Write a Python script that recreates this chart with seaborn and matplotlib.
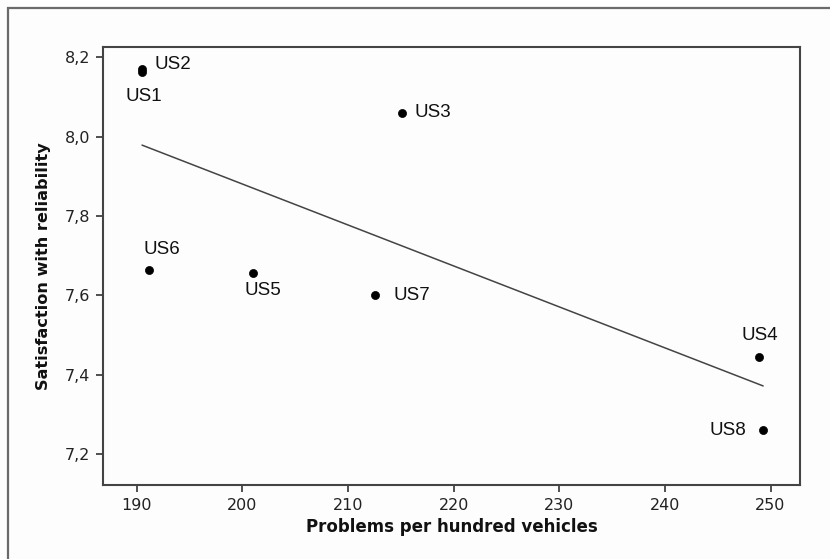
import matplotlib
matplotlib.use("Agg")
import matplotlib.pyplot as plt
from matplotlib.ticker import FuncFormatter, FixedLocator
from matplotlib.patches import Rectangle
import seaborn as sns
import pandas as pd

# Vehicle brands: problems per hundred vehicles vs. satisfaction with reliability
brands = ["US1", "US2", "US3", "US4", "US5", "US6", "US7", "US8"]
problems = [190.5, 190.5, 215.1, 248.9, 201.0, 191.2, 212.6, 249.3]
satisfaction = [8.164, 8.170, 8.060, 7.445, 7.657, 7.664, 7.600, 7.260]

x_ticks = [190, 200, 210, 220, 230, 240, 250]
y_ticks = [7.2, 7.4, 7.6, 7.8, 8.0, 8.2]

# label offsets in points and alignment for each brand
label_pos = {
    "US1": (1, -18, "center", "center"),
    "US2": (9, 3, "left", "center"),
    "US3": (9, 0, "left", "center"),
    "US4": (1, 15, "center", "center"),
    "US5": (7, -13, "center", "center"),
    "US6": (9, 15, "center", "center"),
    "US7": (13, 0, "left", "center"),
    "US8": (-12, 0, "right", "center"),
}

df = pd.DataFrame({"brand": brands, "problems": problems, "satisfaction": satisfaction})

sns.set_theme(style="ticks")
plt.rcParams["font.family"] = ["DejaVu Sans"]

fig = plt.figure(figsize=(8.3, 5.59), dpi=100)
fig.patch.set_facecolor("#fdfdfd")
ax = fig.add_axes([0.124, 0.132, 0.840, 0.784])
ax.set_facecolor("#fdfdfd")

# outer frame of the figure
fig.add_artist(Rectangle((8 / 830, -0.05), 1.2, 1 - 8 / 559 + 0.05,
                         transform=fig.transFigure, fill=False,
                         edgecolor="#6a6a6a", linewidth=1.6))

sns.regplot(data=df, x="problems", y="satisfaction", ax=ax, scatter=False, ci=None,
            line_kws={"color": "#444444", "linewidth": 1.1})
sns.scatterplot(data=df, x="problems", y="satisfaction", ax=ax, color="black",
                marker="o", s=34, edgecolor="black", linewidth=0.5, zorder=3)

for b, xv, yv in zip(brands, problems, satisfaction):
    dx, dy, ha, va = label_pos[b]
    ax.annotate(b, (xv, yv), xytext=(dx, dy), textcoords="offset points",
                ha=ha, va=va, fontsize=13.5, family="Liberation Sans", color="#111111")

ax.set_xlim(186.8, 252.8)
ax.set_ylim(7.121, 8.226)
ax.xaxis.set_major_locator(FixedLocator(x_ticks))
ax.yaxis.set_major_locator(FixedLocator(y_ticks))
ax.xaxis.set_major_formatter(FuncFormatter(lambda v, p: f"{v:.0f}"))
ax.yaxis.set_major_formatter(FuncFormatter(lambda v, p: f"{v:.1f}".replace(".", ",")))

ax.tick_params(axis="both", direction="out", length=5, width=1.2, color="#333333",
               labelsize=11.5, labelcolor="#222222", pad=4)
for side in ["top", "right", "left", "bottom"]:
    ax.spines[side].set_visible(True)
    ax.spines[side].set_color("#444444")
    ax.spines[side].set_linewidth(1.5)

ax.set_xlabel("Problems per hundred vehicles", fontsize=12, fontweight="bold",
              color="#111111", labelpad=4)
ax.set_ylabel("Satisfaction with reliability", fontsize=11.6, fontweight="bold",
              color="#111111", labelpad=10)

fig.savefig("out.png", dpi=100, facecolor=fig.get_facecolor())
